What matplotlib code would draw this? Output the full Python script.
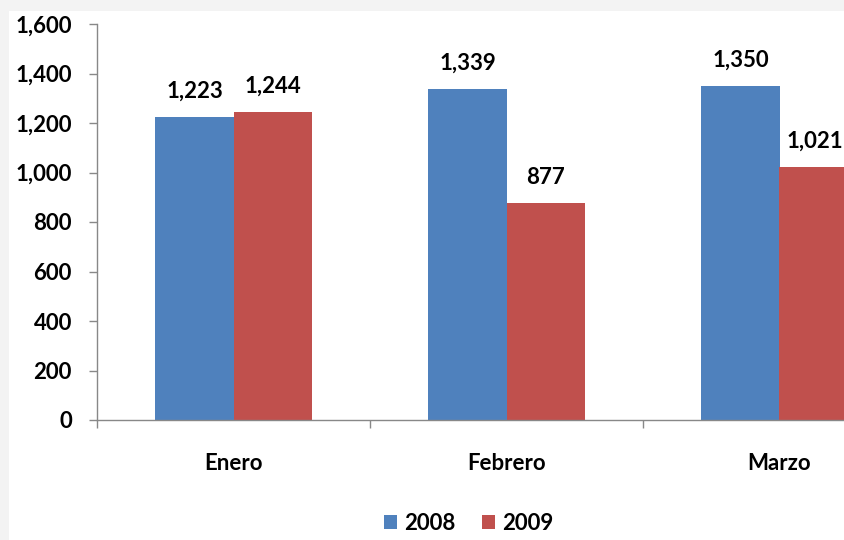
import matplotlib.pyplot as plt
from matplotlib.patches import Rectangle
import numpy as np

plt.rcParams['font.family'] = ['Lato', 'DejaVu Sans']
plt.rcParams['font.weight'] = 'bold'

meses = ['Enero', 'Febrero', 'Marzo']
v2008 = [1223, 1339, 1350]
v2009 = [1244, 877, 1021]
yticks = [0, 200, 400, 600, 800, 1000, 1200, 1400, 1600]

W, H = 844, 540
fig = plt.figure(figsize=(W / 100, H / 100), dpi=100, facecolor='#f3f3f3')
# white chart area with light frame
fig.patches.append(Rectangle((9 / W, 0), 1, 1 - 11 / H, transform=fig.transFigure,
                             facecolor='white', edgecolor='none', zorder=-5))

ax = fig.add_axes([97 / W, (H - 420) / H, 819 / W, 396 / H])
ax.set_facecolor('none')

x = np.arange(len(meses))
bw = 0.286
b1 = ax.bar(x - bw / 2, v2008, bw, color='#4F81BD', label='2008')
b2 = ax.bar(x + bw / 2, v2009, bw, color='#C0504D', label='2009')

fs = 16
labels = []
for bars, vals in ((b1, v2008), (b2, v2009)):
    for b, v in zip(bars, vals):
        t = ax.annotate(f'{v:,}', (b.get_x() + b.get_width() / 2, v),
                        xytext=(0, 11), textcoords='offset points',
                        ha='center', va='bottom', fontsize=fs, fontweight='bold',
                        annotation_clip=False)
        labels.append(t)

ax.set_xlim(-0.5, 2.5)
ax.set_ylim(0, 1600)
ax.set_yticks(yticks)
ax.set_yticklabels([f'{t:,}' for t in yticks], fontsize=fs, fontweight='bold')
ax.set_xticks(x)
ax.set_xticklabels(meses, fontsize=fs, fontweight='bold')
ax.set_xticks([-0.5, 0.5, 1.5, 2.5], minor=True)
ax.tick_params(axis='x', which='major', length=0, pad=24)
ax.tick_params(axis='x', which='minor', length=6, color='#888888', width=1)
ax.tick_params(axis='y', length=6, color='#888888', width=1, pad=12)

for s in ('top', 'right'):
    ax.spines[s].set_visible(False)
for s in ('left', 'bottom'):
    ax.spines[s].set_color('#888888')
    ax.spines[s].set_linewidth(1)

fig.legend(handles=[b1, b2], labels=['2008', '2009'], loc='lower center',
           bbox_to_anchor=(0.555, -0.025), ncol=2, frameon=False,
           prop={'size': fs, 'weight': 'bold'}, handlelength=0.6,
           handleheight=0.6, handletextpad=0.3, columnspacing=1.2)

# keep value labels inside the figure (the last one sits at the right edge)
fig.canvas.draw()
r = fig.canvas.get_renderer()
for t in labels:
    ext = t.get_window_extent(r)
    if ext.x1 > W - 1:
        dx = (W - 1 - ext.x1) * 72 / 100
        t.set_position((dx, 11))

fig.savefig('out.png', dpi=100, facecolor=fig.get_facecolor())
